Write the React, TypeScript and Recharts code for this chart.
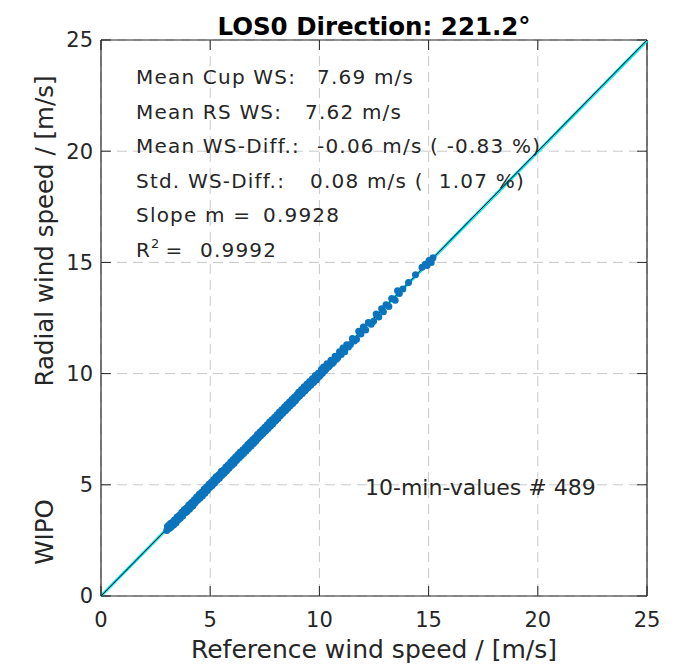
import React from "react";
import {
  ScatterChart,
  Scatter,
  XAxis,
  YAxis,
  CartesianGrid,
  ReferenceLine,
} from "recharts";

// axis ticks (m/s)
const xTicks = [0, 5, 10, 15, 20, 25];
const yTicks = [0, 5, 10, 15, 20, 25];

// 10-min averages: cup anemometer (reference) vs. radial lidar wind speed
const refSpeed = [
  3.01, 3.04, 3.08, 3.11, 3.14, 3.19, 3.21, 3.26, 3.29, 3.33, 3.36, 3.41, 3.43,
  3.48, 3.52, 3.55, 3.59, 3.63, 3.66, 3.7, 3.74, 3.78, 3.81, 3.86, 3.9, 3.94,
  3.97,
  4.01, 4.05, 4.09, 4.12, 4.16, 4.2, 4.23, 4.27, 4.31, 4.35, 4.38, 4.42, 4.46,
  4.5, 4.53, 4.57, 4.61, 4.64, 4.68, 4.72, 4.76, 4.79, 4.83, 4.87, 4.91, 4.94,
  4.98,
  5.02, 5.05, 5.09, 5.13, 5.16, 5.2, 5.24, 5.27, 5.31, 5.35, 5.39, 5.42, 5.46,
  5.5, 5.53, 5.57, 5.61, 5.64, 5.68, 5.72, 5.75, 5.79, 5.83, 5.86, 5.9, 5.94,
  5.98,
  6.01, 6.05, 6.09, 6.12, 6.16, 6.2, 6.23, 6.27, 6.31, 6.35, 6.38, 6.42, 6.46,
  6.5, 6.53, 6.57, 6.61, 6.64, 6.68, 6.72, 6.75, 6.79, 6.83, 6.87, 6.9, 6.94,
  6.98,
  7.02, 7.05, 7.09, 7.13, 7.16, 7.2, 7.24, 7.28, 7.31, 7.35, 7.39, 7.42, 7.46,
  7.5, 7.54, 7.57, 7.61, 7.65, 7.68, 7.72, 7.76, 7.8, 7.83, 7.87, 7.91, 7.95,
  7.98,
  8.02, 8.06, 8.1, 8.13, 8.17, 8.21, 8.25, 8.28, 8.32, 8.36, 8.4, 8.44, 8.47,
  8.51, 8.55, 8.59, 8.63, 8.66, 8.7, 8.74, 8.78, 8.82, 8.86, 8.9, 8.94, 8.97,
  9.01, 9.05, 9.09, 9.13, 9.18, 9.22, 9.26, 9.3, 9.34, 9.38, 9.43, 9.47, 9.51,
  9.55, 9.6, 9.64, 9.68, 9.73, 9.77, 9.81, 9.86, 9.9, 9.95, 9.99,
  10.04, 10.09, 10.14, 10.19, 10.24, 10.3, 10.35, 10.41, 10.47, 10.53, 10.59,
  10.65, 10.72, 10.78, 10.85, 10.92,
  11.0, 11.08, 11.16, 11.25, 11.33, 11.42, 11.51, 11.6, 11.7, 11.8, 11.9,
  12.01, 12.12, 12.24, 12.37, 12.48, 12.6, 12.72, 12.85, 12.93,
  13.05, 13.18, 13.31, 13.47, 13.58, 13.66, 13.82, 14.08, 14.4, 14.7, 14.85,
  14.93, 15.02, 15.12, 15.2,
];
const radialSpeed = [
  2.95, 3.12, 3.02, 3.19, 3.05, 3.27, 3.1, 3.3, 3.18, 3.2, 3.42, 3.33, 3.28,
  3.55, 3.41, 3.46, 3.63, 3.5, 3.62, 3.77, 3.6, 3.72, 3.88, 3.74, 3.95, 3.8,
  3.92,
  4.08, 3.9, 4.14, 3.99, 4.22, 4.05, 4.11, 4.33, 4.19, 4.28, 4.45, 4.3, 4.36,
  4.58, 4.41, 4.49, 4.67, 4.5, 4.6, 4.8, 4.62, 4.71, 4.9, 4.74, 4.86, 5.02,
  4.88,
  4.93, 5.12, 4.97, 5.05, 5.24, 5.08, 5.17, 5.36, 5.2, 5.27, 5.45, 5.3, 5.39,
  5.6, 5.42, 5.48, 5.66, 5.52, 5.59, 5.8, 5.63, 5.7, 5.9, 5.74, 5.83, 6.02,
  5.87,
  5.92, 6.14, 5.96, 6.04, 6.25, 6.09, 6.15, 6.36, 6.2, 6.26, 6.47, 6.31, 6.37,
  6.58, 6.41, 6.49, 6.69, 6.52, 6.6, 6.81, 6.63, 6.7, 6.91, 6.74, 6.82, 7.03,
  6.86,
  6.93, 7.13, 6.97, 7.05, 7.26, 7.09, 7.16, 7.37, 7.2, 7.27, 7.48, 7.31, 7.38,
  7.59, 7.43, 7.48, 7.7, 7.53, 7.6, 7.82, 7.64, 7.71, 7.92, 7.75, 7.84, 8.04,
  7.87,
  7.93, 8.15, 7.98, 8.06, 8.27, 8.1, 8.17, 8.38, 8.22, 8.28, 8.5, 8.33, 8.39,
  8.61, 8.44, 8.51, 8.72, 8.55, 8.62, 8.84, 8.66, 8.73, 8.95, 8.78, 8.86, 9.05,
  8.92, 9.16, 8.99, 9.06, 9.29, 9.11, 9.19, 9.41, 9.23, 9.3, 9.53, 9.36, 9.42,
  9.64, 9.48, 9.55, 9.77, 9.6, 9.68, 9.91, 9.71, 9.79, 10.02, 9.87,
  9.93, 10.18, 10.02, 10.3, 10.13, 10.2, 10.44, 10.3, 10.36, 10.6, 10.45,
  10.52, 10.78, 10.64, 10.72, 10.98,
  10.86, 11.15, 10.98, 11.3, 11.2, 11.31, 11.58, 11.47, 11.55, 11.9, 11.78,
  12.1, 11.96, 12.3, 12.22, 12.35, 12.68, 12.54, 12.92, 12.78,
  13.1, 13.02, 13.38, 13.3, 13.72, 13.6, 13.8, 14.1, 14.45, 14.78, 14.92,
  14.86, 15.08, 15.0, 15.21,
];

const slope = 0.9928;
const sampleCount = 489;

const statLabels = [
  "Mean Cup WS:",
  "Mean RS WS:",
  "Mean WS-Diff.:",
  "Std. WS-Diff.:",
  "Slope m =",
];
const statValues = [
  "7.69 m/s",
  "7.62 m/s",
  "-0.06 m/s ( -0.83 %)",
  "0.08 m/s (  1.07 %)",
  "0.9928",
];
const statValueX = [317, 305, 317, 310, 263];
const rSquared = "0.9992";

const points = refSpeed.map((x, i) => ({ x, y: radialSpeed[i] }));

const FONT = "'DejaVu Sans', Verdana, sans-serif";
const TEXT = "#262626";
const TICK_LEN = 0.45;

const Dot = (props: any) => {
  const { cx, cy } = props;
  return <circle cx={cx} cy={cy} r={3.5} fill="#0b74bd" />;
};

export default function App() {
  return (
    <div
      style={{
        position: "relative",
        width: 675,
        height: 665,
        background: "#fff",
        fontFamily: FONT,
      }}
    >
      <style>{`body{margin:0;background:#fff}`}</style>
      <ScatterChart
        width={675}
        height={665}
        margin={{ top: 40, right: 28, bottom: 0, left: 0 }}
      >
        <CartesianGrid stroke="#c8c8c8" strokeDasharray="10 6" />
        <XAxis
          type="number"
          dataKey="x"
          domain={[0, 25]}
          ticks={xTicks}
          height={69}
          tickLine={false}
          axisLine={{ stroke: TEXT, strokeWidth: 1.2 }}
          tick={{ fontSize: 21, fill: TEXT, fontFamily: FONT }}
          tickMargin={10}
        />
        <YAxis
          type="number"
          dataKey="y"
          domain={[0, 25]}
          ticks={yTicks}
          width={101}
          tickLine={false}
          axisLine={{ stroke: TEXT, strokeWidth: 1.2 }}
          tick={{ fontSize: 21, fill: TEXT, fontFamily: FONT }}
          tickMargin={2}
        />
        <Scatter data={points} shape={Dot} isAnimationActive={false} />
        {/* box: top and right edges */}
        <ReferenceLine y={25} stroke={TEXT} strokeWidth={1.2} />
        <ReferenceLine x={25} stroke={TEXT} strokeWidth={1.2} />
        {/* inward tick marks on all four sides */}
        {xTicks.map((t) => (
          <ReferenceLine
            key={`xb-${t}`}
            segment={[
              { x: t, y: 0 },
              { x: t, y: TICK_LEN },
            ]}
            stroke={TEXT}
          />
        ))}
        {xTicks.map((t) => (
          <ReferenceLine
            key={`xt-${t}`}
            segment={[
              { x: t, y: 25 },
              { x: t, y: 25 - TICK_LEN },
            ]}
            stroke={TEXT}
          />
        ))}
        {yTicks.map((t) => (
          <ReferenceLine
            key={`yl-${t}`}
            segment={[
              { x: 0, y: t },
              { x: TICK_LEN, y: t },
            ]}
            stroke={TEXT}
          />
        ))}
        {yTicks.map((t) => (
          <ReferenceLine
            key={`yr-${t}`}
            segment={[
              { x: 25, y: t },
              { x: 25 - TICK_LEN, y: t },
            ]}
            stroke={TEXT}
          />
        ))}
        {/* regression line and 1:1 line */}
        <ReferenceLine
          segment={[
            { x: 0, y: 0 },
            { x: 25, y: 25 * slope + 0.15 },
          ]}
          stroke="#00e5ee"
          strokeWidth={3}
        />
        <ReferenceLine
          segment={[
            { x: 0, y: 0 },
            { x: 25, y: 25 },
          ]}
          stroke="#000"
          strokeWidth={1}
        />
      </ScatterChart>

      <svg
        width={675}
        height={665}
        style={{ position: "absolute", left: 0, top: 0, pointerEvents: "none" }}
      >
        <text
          x={374}
          y={35}
          textAnchor="middle"
          fontSize={24.5}
          fontWeight="bold"
          fill="#000"
          fontFamily={FONT}
        >
          LOS0 Direction: 221.2°
        </text>
        {statLabels.map((label, i) => (
          <g key={label}>
            <text
              x={136}
              y={84 + i * 34.5}
              fontSize={20}
              letterSpacing={1.2}
              fill={TEXT}
              fontFamily={FONT}
            >
              {label}
            </text>
            <text
              x={statValueX[i]}
              y={84 + i * 34.5}
              fontSize={20}
              letterSpacing={1.2}
              fill={TEXT}
              fontFamily={FONT}
              style={{ whiteSpace: "pre" }}
            >
              {statValues[i]}
            </text>
          </g>
        ))}
        <text
          x={136}
          y={257}
          fontSize={20}
          letterSpacing={1.2}
          fill={TEXT}
          fontFamily={FONT}
        >
          R
          <tspan dy={-9} fontSize={13}>
            2
          </tspan>
          <tspan dy={9} dx={5}>
            =
          </tspan>
        </text>
        <text
          x={200}
          y={257}
          fontSize={20}
          letterSpacing={1.2}
          fill={TEXT}
          fontFamily={FONT}
        >
          {rSquared}
        </text>
        <text x={365} y={495} fontSize={22} fill={TEXT} fontFamily={FONT}>
          {`10-min-values # ${sampleCount}`}
        </text>
        <text
          x={374}
          y={658}
          textAnchor="middle"
          fontSize={25}
          fill={TEXT}
          fontFamily={FONT}
        >
          Reference wind speed / [m/s]
        </text>
        <text
          transform="translate(53,231) rotate(-90)"
          textAnchor="middle"
          fontSize={24.5}
          fill={TEXT}
          fontFamily={FONT}
        >
          Radial wind speed / [m/s]
        </text>
        <text
          transform="translate(53,532) rotate(-90)"
          textAnchor="middle"
          fontSize={24.5}
          fill={TEXT}
          fontFamily={FONT}
        >
          WIPO
        </text>
      </svg>
    </div>
  );
}
